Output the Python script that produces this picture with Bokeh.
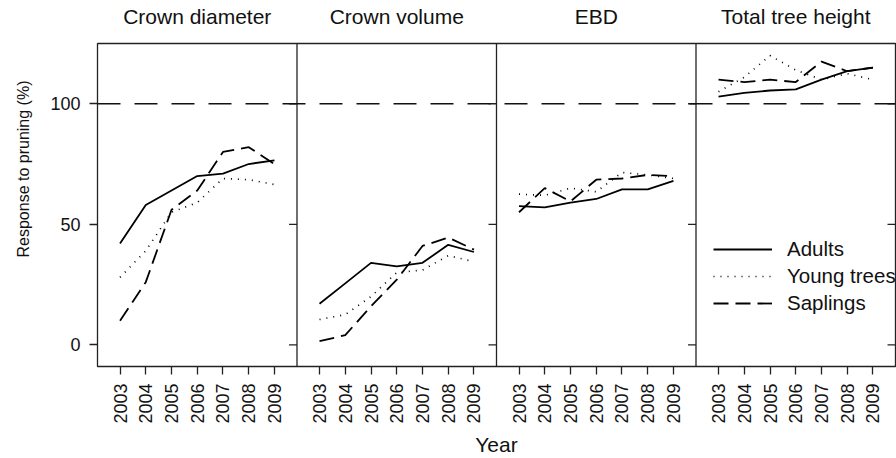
import math
from bokeh.plotting import figure
from bokeh.models import (FixedTicker, LinearAxis, Span, Legend, LegendItem,
                          Title, Range1d)
from bokeh.embed import file_html
from bokeh.resources import INLINE

# ---------------- data ----------------
years = [2003, 2004, 2005, 2006, 2007, 2008, 2009]
year_labels = ["2003", "2004", "2005", "2006", "2007", "2008", "2009"]
panel_titles = ["Crown diameter", "Crown volume", "EBD", "Total tree height"]
y_ticks = [0, 50, 100]
reference_level = 100
series_names = ["Adults", "Young trees", "Saplings"]

adults_crown_diameter = [42, 58, 64, 70, 71, 75, 76.5]
young_crown_diameter = [28, 39, 55, 59, 69, 68.5, 66.5]
saplings_crown_diameter = [10, 26, 56, 64, 80, 82, 75]

adults_crown_volume = [17, 25.5, 34, 32.5, 34, 41.5, 38.5]
young_crown_volume = [10.5, 12.5, 20, 30, 31, 37, 34.5]
saplings_crown_volume = [1.5, 4, 16, 27, 41, 44.5, 39.5]

adults_ebd = [57.5, 57, 59, 60.5, 64.5, 64.5, 68]
young_ebd = [62.5, 62, 65, 63.5, 71.5, 70.5, 69]
saplings_ebd = [55, 65, 59.5, 68.5, 69, 70.5, 70]

adults_height = [103, 104.5, 105.5, 106, 110, 113.5, 115]
young_height = [105, 111, 120, 114, 110, 112.5, 110]
saplings_height = [110, 109, 110, 109, 117.5, 113.5, 115]

adults_all = [adults_crown_diameter, adults_crown_volume, adults_ebd, adults_height]
young_all = [young_crown_diameter, young_crown_volume, young_ebd, young_height]
saplings_all = [saplings_crown_diameter, saplings_crown_volume, saplings_ebd, saplings_height]

# ---------------- layout helpers ----------------
PANEL_W = 7.75                       # x-units per panel
PAD = (PANEL_W - (years[-1] - years[0])) / 2.0
n_panels = len(panel_titles)

def panel_x(k):
    return [k * PANEL_W + PAD + (y - years[0]) for y in years]

FONT = "Liberation Sans"
INK = "#111111"
FRAME_W = 800

p = figure(width=896, height=458, output_backend="svg", toolbar_location=None,
           x_range=Range1d(0, n_panels * PANEL_W), y_range=Range1d(-9, 125),
           x_axis_location=None, y_axis_location=None,
           min_border_left=95, min_border_right=1, min_border_top=43,
           min_border_bottom=92)
p.grid.visible = False
p.outline_line_color = "#222222"
p.outline_line_width = 1.3
p.background_fill_color = "white"
p.border_fill_color = "white"

# ---------------- axes ----------------
bottom_ticks = []
bottom_over = {}
for k in range(n_panels):
    for x, lab in zip(panel_x(k), year_labels):
        bottom_ticks.append(x)
        bottom_over[x] = lab

xa = LinearAxis(ticker=FixedTicker(ticks=bottom_ticks), major_label_overrides=bottom_over)
xa.axis_label = "Year"
xa.axis_label_text_font = FONT
xa.axis_label_text_font_size = "21px"
xa.axis_label_text_font_style = "normal"
xa.axis_label_text_color = INK
xa.axis_label_standoff = 6
xa.major_label_orientation = math.pi / 2
xa.major_label_text_font = FONT
xa.major_label_text_font_size = "18px"
xa.major_label_text_color = INK
xa.major_label_standoff = 9
xa.major_tick_out = 8
xa.major_tick_in = 0
xa.major_tick_line_width = 1.3
xa.major_tick_line_color = "#222222"
xa.minor_tick_line_color = None
xa.axis_line_color = None
p.add_layout(xa, "below")

ya = LinearAxis(ticker=FixedTicker(ticks=y_ticks))
ya.major_label_text_font = FONT
ya.major_label_text_font_size = "18px"
ya.major_label_text_color = INK
ya.major_label_standoff = 9
ya.major_tick_out = 8
ya.major_tick_in = 0
ya.major_tick_line_width = 1.3
ya.major_tick_line_color = "#222222"
ya.minor_tick_line_color = None
ya.axis_line_color = None
p.add_layout(ya, "left")

# y-axis title (its upper end sits below the frame top, like the reference)
p.add_layout(Title(text="Response to pruning (%)", align="right", offset=37,
                   vertical_align="top", standoff=28, text_font=FONT,
                   text_font_size="16px", text_font_style="normal",
                   text_color=INK), "left")

top_ticks = [(k + 0.5) * PANEL_W for k in range(n_panels)]
top_over = {t: title for t, title in zip(top_ticks, panel_titles)}
ta = LinearAxis(ticker=FixedTicker(ticks=top_ticks), major_label_overrides=top_over)
ta.major_label_text_font = FONT
ta.major_label_text_font_size = "21px"
ta.major_label_text_color = INK
ta.major_label_standoff = 16
ta.major_tick_out = 0
ta.major_tick_in = 0
ta.major_tick_line_color = None
ta.minor_tick_line_color = None
ta.axis_line_color = None
p.add_layout(ta, "above")

# ---------------- panel separators, reference line, inner ticks ----------------
for k in range(1, n_panels):
    p.add_layout(Span(location=k * PANEL_W, dimension="height",
                      line_color="#222222", line_width=1.3))
p.add_layout(Span(location=reference_level, dimension="width",
                  line_color="#111111", line_width=1.3, line_dash="23 14"))

tick_len = 8 * (n_panels * PANEL_W) / FRAME_W
x0s, x1s, ys = [], [], []
for k in range(1, n_panels + 1):
    for t in y_ticks:
        x0s.append(k * PANEL_W)
        x1s.append(k * PANEL_W - tick_len)
        ys.append(t)
p.segment(x0=x0s, y0=ys, x1=x1s, y1=ys, line_color="#222222", line_width=1.3)

# ---------------- data lines ----------------
styles = [
    dict(line_color="black", line_width=1.8),
    dict(line_color="black", line_width=1.7, line_dash="1 6"),
    dict(line_color="black", line_width=1.8, line_dash="15 7"),
]
first = []
for si, data_all in enumerate([adults_all, young_all, saplings_all]):
    for k in range(n_panels):
        r = p.line(panel_x(k), data_all[k], **styles[si])
        if k == 0:
            first.append(r)

legend = Legend(items=[LegendItem(label=n, renderers=[r]) for n, r in zip(series_names, first)],
                location=(616, 51))
legend.border_line_color = None
legend.background_fill_alpha = 0
legend.label_text_font = FONT
legend.label_text_font_size = "20.5px"
legend.label_text_color = INK
legend.glyph_width = 59
legend.glyph_height = 22
legend.label_height = 22
legend.label_standoff = 15
legend.spacing = 3
legend.padding = 0
legend.margin = 0
p.add_layout(legend)

open("out.html", "w").write(file_html(p, INLINE))
